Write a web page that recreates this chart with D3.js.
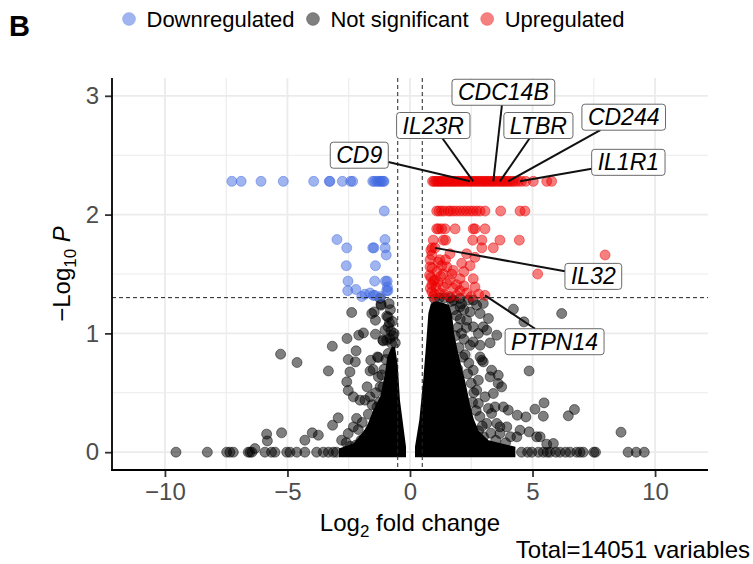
<!DOCTYPE html>
<html><head><meta charset="utf-8">
<script src="https://cdn.jsdelivr.net/npm/d3@7"></script>
<style>
body{margin:0;background:#fff}
svg{display:block}
text{font-family:"Liberation Sans",Arial,Helvetica,sans-serif}
</style>
</head><body>
<svg id="chart" width="753" height="564"></svg>
<script>
// ---------------- DATA ----------------
const legendLabels = ["Downregulated", "Not significant", "Upregulated"];
const xTickValues = [-10, -5, 0, 5, 10];
const yTickValues = [0, 1, 2, 3];
const fcCutoff = 0.5;
const pCutoffLog = 1.301;
const totalVariables = 14051;

// Downregulated genes: [log2FC, -log10 P]
const downPoints = [
  [-7.27,2.28],[-6.89,2.28],[-6.08,2.28],[-5.17,2.28],[-3.93,2.28],[-3.29,2.28],[-3.27,2.28],
  [-2.76,2.28],[-2.42,2.28],[-2.34,2.28],[-1.52,2.28],[-1.45,2.28],[-1.36,2.28],[-1.28,2.28],
  [-1.22,2.28],[-1.16,2.28],[-1.09,2.28],[-1.06,2.28],
  [-1.05,2.03],
  [-2.98,1.79],[-1.02,1.79],
  [-2.58,1.72],[-1.52,1.72],[-1.47,1.72],[-1.01,1.72],
  [-0.97,1.66],
  [-2.60,1.57],[-1.41,1.57],
  [-2.53,1.44],[-1.44,1.44],[-1.00,1.44],[-0.93,1.44],
  [-2.54,1.36],[-2.21,1.37],[-0.95,1.36],[-0.90,1.36],[-0.92,1.39],
  [-1.84,1.33],[-1.63,1.34],[-1.50,1.32],[-1.43,1.32],[-1.97,1.31],[-1.20,1.31]
];

// Upregulated genes: [log2FC, -log10 P]
const upTopRowFC = [0.92,0.98,1.05,1.12,1.18,1.25,1.31,1.38,1.44,1.52,1.58,1.65,1.72,1.79,1.85,1.93,
  2.00,2.08,2.15,2.22,2.30,2.38,2.45,2.52,2.60,2.68,2.75,2.83,2.90,2.98,3.05,3.12,3.20,3.28,3.35,
  3.42,3.50,3.58,3.66,3.73,3.80,3.88,3.95,4.03,4.12,4.20,4.30,4.42,4.55,4.72,5.03,5.58,5.78];
const upTopRowP = 2.28;
const upPoints = [
  [1.09,2.03],[1.18,2.03],[1.29,2.03],[1.40,2.03],[1.56,2.03],[1.65,2.03],[1.77,2.03],[1.90,2.03],
  [2.04,2.03],[2.18,2.03],[2.31,2.03],[2.45,2.03],[2.58,2.03],[2.72,2.03],[2.86,2.03],[3.06,2.03],
  [3.70,2.03],[4.49,2.03],[4.69,2.03],
  [1.09,1.88],[1.16,1.88],[1.29,1.88],[1.43,1.88],[1.84,1.88],[2.58,1.88],[2.65,1.88],[3.06,1.88],
  [0.95,1.785],[1.36,1.785],[1.45,1.785],[2.56,1.785],[2.93,1.785],[3.67,1.785],[4.46,1.785],
  [0.90,1.72],[1.02,1.72],[2.93,1.72],[3.40,1.72],
  [7.96,1.66],[5.21,1.50],
  [0.89,1.66],[1.22,1.62],[1.63,1.67],[2.31,1.67],[2.65,1.64],[0.82,1.56],[1.50,1.56],[2.11,1.59],
  [2.45,1.57],[1.36,1.50],[1.77,1.53],[0.80,1.49],[1.02,1.45],[1.63,1.45],[2.04,1.46],[0.89,1.41],
  [1.36,1.39],[1.77,1.38],[2.58,1.46],[2.65,1.39],[2.04,1.36],[0.89,1.35],[1.22,1.34],[2.31,1.34],
  [3.06,1.32],[1.10,1.52],[1.25,1.48],[1.50,1.42],[1.90,1.41],[2.20,1.40],[1.15,1.60],[0.95,1.31],
  [1.60,1.31],[2.50,1.31],[1.40,1.33],[1.90,1.32],[2.80,1.33],[0.85,1.47],[1.70,1.50],[2.20,1.52],
  [1.05,1.39],[0.82,1.62],[0.85,1.70],[0.90,1.55],[0.95,1.44],[0.83,1.38],[1.00,1.33],[1.15,1.43],
  [1.30,1.57],[1.45,1.62]
];

// Not significant genes: individually visible points [log2FC, -log10 P]
const nsPoints = [
  [-9.55,0],[-8.27,0],[-7.48,0],[-7.35,0],[-7.21,0],[-6.60,0],[-6.53,0],[-6.45,0],[-6.33,0.03],
  [-5.92,0],[-5.65,0],[-5.51,0],[-5.03,0],[-4.90,0],[-4.62,0],[-4.29,0],[-3.81,0],[-3.54,0],
  [-3.33,0],[-3.13,0],[-3.00,0],
  [4.55,0],[4.80,0],[4.97,0],[5.24,0],[5.44,0],[5.60,0],[5.71,0],[5.95,0],[6.12,0],[6.35,0],
  [6.53,0],[6.80,0],[6.94,0],[7.07,0],[7.50,0],[7.57,0],[8.90,0],[9.23,0],[9.56,0],
  [-5.85,0.152],[-5.82,0.095],[-5.24,0.163],[-4.29,0.101],[-3.99,0.163],[-3.74,0.143],[-3.16,0.227],
  [-2.93,0.289],[-2.79,0.101],[-2.52,0.157],[-2.31,0.213],[-2.11,0.191],[-2.18,0.284],
  [-5.28,0.825],[-4.61,0.755],[-3.33,0.684],[-3.17,0.892],[-2.57,0.957],[-2.38,1.176],[-2.52,0.78],
  [-2.45,0.676],[-2.58,0.592],[-2.52,0.52],[-2.20,0.853],[-2.23,0.76],[-2.09,0.985],[-1.90,1.004],
  [-1.60,0.774],[-1.63,0.684],[-1.50,0.696],[-1.29,0.797],[-1.41,0.993],[-1.56,1.167],[-1.41,1.111],
  [-1.46,1.181],[-1.18,1.246],[-0.95,1.145],[-0.89,1.055],[-1.02,1.027],[-1.11,0.943],[-0.95,0.943],
  [-0.75,0.915],[-1.63,0.466],[-1.84,0.438],[-2.04,0.438],[-2.31,0.466],[-1.33,0.802],[-1.29,0.634],
  [-1.22,0.55],[-0.89,1.139],[-0.84,1.088],[-0.82,0.957],[-1.09,0.937],[-0.89,0.831],[-1.22,1.294],
  [-1.18,1.237],
  [-1.30,0.30],[-1.45,0.25],[-1.60,0.20],[-1.85,0.12],[-2.00,0.10],[-2.20,0.06],[-1.25,0.42],
  [-1.35,0.38],[-1.10,0.55],[-2.45,0.05],[-2.60,0.08],[-1.05,0.70],[-0.98,0.78],[-0.70,0.98],
  [-0.65,1.00],[-0.80,1.20],[-0.78,1.02],[-1.40,0.50],[-1.70,0.32],[-1.95,0.25],[-1.15,0.65],
  [-1.75,0.55],[-1.55,0.40],[-0.60,0.92],[-0.72,1.10],[-0.85,1.25],
  [4.22,1.204],[4.65,1.097],[6.19,1.167],[3.54,0.985],[3.27,0.92],[4.86,0.684],[5.47,0.415],
  [5.10,0.362],[5.44,0.303],[4.73,0.297],[4.38,0.311],[4.01,0.354],[3.81,0.381],[6.71,0.359],
  [6.46,0.306],[8.61,0.168],[4.86,0.171],[5.17,0.129],[5.58,0.067],[5.85,0.073],[3.40,0.494],
  [3.60,0.578],[3.74,0.55],[3.27,0.634],[2.99,0.76],[2.86,0.802],[2.86,0.90],[3.20,1.125],
  [2.99,1.055],[2.86,1.167],[2.72,1.237],[2.38,1.28],[2.04,1.294],[3.54,0.242],[3.95,0.213],
  [4.49,0.185],[3.67,0.157],[5.31,0.129],[3.33,0.69],[3.60,0.648],[3.47,0.381],[3.20,0.368],
  [4.36,0.129],[3.67,0.213],[3.13,1.027],[2.58,1.055],[2.31,1.111],[2.45,1.181],[2.04,1.223],
  [1.77,1.28],[2.58,1.28],[2.99,1.252],[2.79,1.00],[2.58,0.928],[2.93,0.774],[2.58,0.69],
  [2.79,0.606],[2.72,0.522],[3.06,0.466],[2.79,0.41],[3.13,0.242],[3.33,0.326],
  [1.80,1.20],[1.90,1.15],[2.10,1.25],[1.70,1.27],[1.95,1.05],[2.10,1.00],[2.20,0.95],[2.00,0.88],
  [2.25,0.82],[2.40,0.75],[2.35,0.66],[2.50,0.58],[2.60,0.50],[2.55,0.42],[2.70,0.35],[2.85,0.30],
  [2.95,0.22],[3.30,0.16],[3.00,0.13],[2.80,0.18],[3.50,0.10],[3.90,0.08],[4.10,0.13],[2.45,0.90],
  [2.30,1.05],[1.85,0.98],[2.15,0.80],[2.05,1.12],[1.95,0.70],[2.30,0.35],[2.40,0.22],[2.65,0.12],
  [1.40,1.30],[1.20,1.30],[1.00,1.29],[1.65,1.30],[2.20,1.20]
];

// Saturated (fully overlapping) regions of non-significant genes, outline
const nsCoreLeft = [[-2.9,0.03],[-2.31,0.073],[-1.97,0.157],[-1.77,0.213],[-1.5,0.354],[-1.22,0.466],
  [-1.16,0.522],[-1.02,0.662],[-0.93,0.802],[-0.75,0.886],[-0.61,0.886],[-0.5,0.732],[-0.41,0.438],
  [-0.163,0.045],[-0.163,-0.042],[-2.9,-0.042]];
const nsCoreRight = [[0.204,0.045],[0.38,0.27],[0.54,0.61],[0.65,0.89],[0.75,1.17],[0.85,1.25],
  [1.0,1.27],[1.3,1.26],[1.6,1.24],[1.72,1.15],[1.8,1.0],[1.95,0.85],[2.1,0.72],[2.25,0.6],
  [2.35,0.5],[2.45,0.4],[2.6,0.28],[2.8,0.18],[3.2,0.1],[4.3,0.045],[4.3,-0.042],[0.204,-0.042]];

// Labelled genes
const labelGenes = ["CD9","IL23R","CDC14B","LTBR","CD244","IL1R1","IL32","PTPN14"];
const labelFC    = [2.45, 2.58, 3.40, 3.67, 4.01, 4.49, 1.02, 3.06];
const labelLogP  = [2.28, 2.28, 2.28, 2.28, 2.28, 2.28, 1.72, 1.32];
const labelBoxFC   = [-2.07, 0.95, 3.81, 5.24, 8.72, 8.91, 7.48, 5.90];
const labelBoxLogP = [2.50, 2.75, 3.03, 2.75, 2.82, 2.44, 1.48, 0.93];

// ---------------- DRAW ----------------
const svg = d3.select("#chart");
const W = 753, H = 564;
const m = {left:112, right:45, top:78, bottom:94};
const x = d3.scaleLinear().domain([-12.16, 12.16]).range([m.left, W - m.right]);
const y = d3.scaleLinear().domain([-0.15, 3.15]).range([H - m.bottom, m.top]);
const x0 = m.left, x1 = W - m.right, y0 = H - m.bottom, y1 = m.top;

const colDown = "#4169E1", colNS = "#000000", colUp = "#EE0000";
const gridCol = "#EBEBEB";

// grid
const g = svg.append("g");
const xMinor = [-7.5, -2.5, 2.5, 7.5];
const yMinor = [0.5, 1.5, 2.5];
g.selectAll(".xm").data(xMinor).join("line").attr("x1", d=>x(d)).attr("x2", d=>x(d))
  .attr("y1", y1).attr("y2", y0).attr("stroke", gridCol).attr("stroke-width", 1.1);
g.selectAll(".ym").data(yMinor).join("line").attr("y1", d=>y(d)).attr("y2", d=>y(d))
  .attr("x1", x0).attr("x2", x1).attr("stroke", gridCol).attr("stroke-width", 1.1);
g.selectAll(".xM").data(xTickValues).join("line").attr("x1", d=>x(d)).attr("x2", d=>x(d))
  .attr("y1", y1).attr("y2", y0).attr("stroke", gridCol).attr("stroke-width", 1.8);
g.selectAll(".yM").data(yTickValues).join("line").attr("y1", d=>y(d)).attr("y2", d=>y(d))
  .attr("x1", x0).attr("x2", x1).attr("stroke", gridCol).attr("stroke-width", 1.8);

// dense cores
const line = d3.line().x(d=>x(d[0])).y(d=>y(d[1]));
const cores = svg.append("g");
[nsCoreLeft, nsCoreRight].forEach(poly => {
  cores.append("path").attr("d", line(poly) + "Z").attr("fill", "#000");
});

// points
const R = 5;
function drawPts(data, col) {
  svg.append("g").selectAll("circle").data(data).join("circle")
    .attr("cx", d=>x(d[0])).attr("cy", d=>y(d[1])).attr("r", R)
    .attr("fill", col).attr("fill-opacity", 0.5)
    .attr("stroke", col).attr("stroke-opacity", 0.45).attr("stroke-width", 1);
}
drawPts(nsPoints, colNS);
drawPts(downPoints, colDown);
drawPts(upTopRowFC.map(v => [v, upTopRowP]), colUp);
drawPts(upPoints, colUp);

// cutoff lines
const cut = svg.append("g").attr("stroke", "#222").attr("stroke-width", 1).attr("stroke-dasharray", "4,3");
[-fcCutoff, fcCutoff].forEach(v => cut.append("line").attr("x1", x(v)).attr("x2", x(v)).attr("y1", y1).attr("y2", y0));
cut.append("line").attr("x1", x0).attr("x2", x1).attr("y1", y(pCutoffLog)).attr("y2", y(pCutoffLog));

// axes
const xAxis = d3.axisBottom(x).tickValues(xTickValues).tickSize(7).tickPadding(6);
const yAxis = d3.axisLeft(y).tickValues(yTickValues).tickFormat(d3.format("d")).tickSize(7).tickPadding(6);
const gx = svg.append("g").attr("transform", `translate(0,${y0})`).call(xAxis);
const gy = svg.append("g").attr("transform", `translate(${x0},0)`).call(yAxis);
[gx, gy].forEach(a => {
  a.select(".domain").remove();
  a.selectAll(".tick line").attr("stroke", "#333").attr("stroke-width", 1.8);
  a.selectAll(".tick text").attr("fill", "#4D4D4D").style("font-size", "24px")
   .style("font-family", '"Liberation Sans",Arial,sans-serif');
});
svg.append("line").attr("x1", x0).attr("x2", x0).attr("y1", y1).attr("y2", y0 + 0.9)
  .attr("stroke", "#000").attr("stroke-width", 1.8);
svg.append("line").attr("x1", x0 - 0.9).attr("x2", x1).attr("y1", y0).attr("y2", y0)
  .attr("stroke", "#000").attr("stroke-width", 1.8);

// axis titles
const xt = svg.append("text").attr("x", (x0 + x1) / 2).attr("y", 531).attr("text-anchor", "middle")
  .style("font-size", "24px").attr("fill", "#000");
xt.append("tspan").text("Log");
xt.append("tspan").attr("dy", 6).style("font-size", "17px").text("2");
xt.append("tspan").attr("dy", -6).text(" fold change");

const yt = svg.append("text").attr("transform", `translate(70,${(y0 + y1) / 2}) rotate(-90)`)
  .attr("text-anchor", "middle").style("font-size", "24px").attr("fill", "#000");
yt.append("tspan").text("\u2212Log");
yt.append("tspan").attr("dy", 6).style("font-size", "17px").text("10");
yt.append("tspan").attr("dy", -6).text(" ");
yt.append("tspan").style("font-style", "italic").text("P");

// caption
svg.append("text").attr("x", 750).attr("y", 558).attr("text-anchor", "end")
  .style("font-size", "24px").attr("fill", "#000").text(`Total=${totalVariables} variables`);

// panel tag
svg.append("text").attr("x", 9).attr("y", 36).style("font-size", "29px").style("font-weight", "bold")
  .attr("fill", "#000").text("B");

// legend
const legCols = [colDown, "#000", colUp];
let lx = 129;
legendLabels.forEach((lab, i) => {
  svg.append("circle").attr("cx", lx).attr("cy", 19).attr("r", 6.5)
    .attr("fill", legCols[i]).attr("fill-opacity", 0.5)
    .attr("stroke", legCols[i]).attr("stroke-opacity", 0.3).attr("stroke-width", 0.8);
  const t = svg.append("text").attr("x", lx + 17.5).attr("y", 27).style("font-size", "22px")
    .attr("fill", "#000").text(lab);
  lx = lx + 17.5 + t.node().getComputedTextLength() + 18.5;
});

// labels
const lab = svg.append("g");
labelGenes.forEach((gene, i) => {
  const px = x(labelFC[i]), py = y(labelLogP[i]);
  const cx = x(labelBoxFC[i]), cy = y(labelBoxLogP[i]);
  const tg = lab.append("g");
  const t = tg.append("text").attr("x", cx).attr("y", cy).attr("text-anchor", "middle")
    .attr("dominant-baseline", "central").style("font-size", "23px").style("font-style", "italic")
    .attr("fill", "#000").text(gene);
  const bw = t.node().getComputedTextLength() + 12, bh = 26;
  const hw = bw / 2, hh = bh / 2;
  const dx = px - cx, dy = py - cy;
  const tt = Math.min(Math.abs(dx) > 0 ? hw / Math.abs(dx) : 1e9, Math.abs(dy) > 0 ? hh / Math.abs(dy) : 1e9);
  lab.insert("line", ":first-child").attr("x1", cx + dx * tt).attr("y1", cy + dy * tt)
    .attr("x2", px).attr("y2", py).attr("stroke", "#111").attr("stroke-width", 2);
  tg.insert("rect", "text").attr("x", cx - hw).attr("y", cy - hh).attr("width", bw).attr("height", bh)
    .attr("rx", 3).attr("fill", "#fff").attr("stroke", "#444").attr("stroke-width", 0.8);
});
</script>
</body></html>
